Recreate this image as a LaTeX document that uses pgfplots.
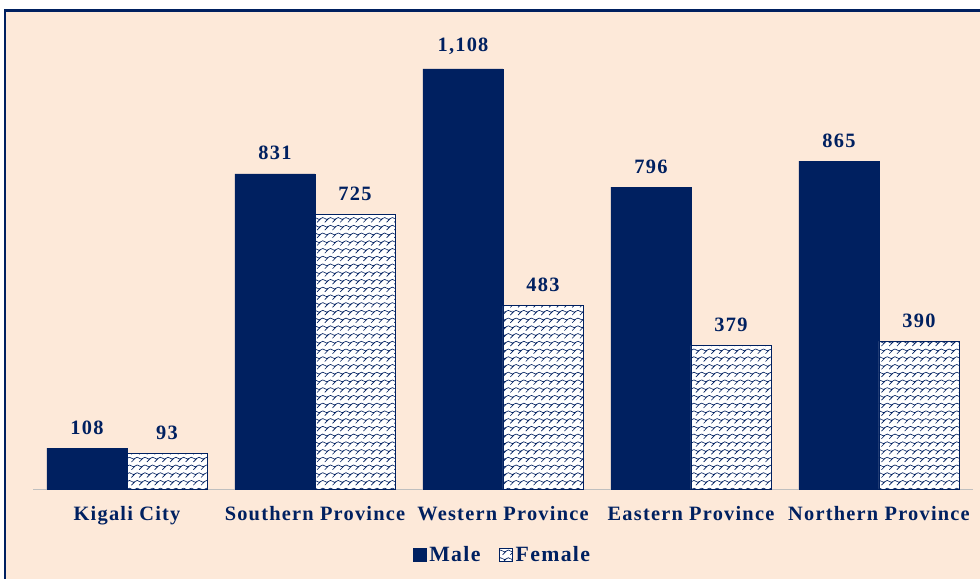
\documentclass[border=0pt]{standalone}
\usepackage{fontspec}
\setmainfont{Liberation Serif}
\newfontfamily\lab[LetterSpace=6]{Liberation Serif}
\usepackage{pgfplots}
\pgfplotsset{compat=1.18}
\usetikzlibrary{patterns}
\definecolor{navy}{HTML}{002060}
\definecolor{peach}{HTML}{FDE9D9}

% scale-like pattern similar to the Excel "shingle" fill
\pgfdeclarepatternformonly{shingle}{\pgfqpoint{-0.5pt}{-0.5pt}}{\pgfqpoint{6pt}{6pt}}{\pgfqpoint{5.5pt}{5.5pt}}{
  \pgfsetlinewidth{0.45pt}
  \pgfpathmoveto{\pgfqpoint{0pt}{0pt}}
  \pgfpathlineto{\pgfqpoint{2.75pt}{2.75pt}}
  \pgfpathcurveto{\pgfqpoint{3.4pt}{3.6pt}}{\pgfqpoint{4.8pt}{3.6pt}}{\pgfqpoint{5.5pt}{2.75pt}}
  \pgfpathmoveto{\pgfqpoint{0pt}{2.75pt}}
  \pgfpathcurveto{\pgfqpoint{0.7pt}{1.9pt}}{\pgfqpoint{2.1pt}{1.9pt}}{\pgfqpoint{2.75pt}{2.75pt}}
  \pgfusepath{stroke}
}

\begin{document}
\begin{tikzpicture}
\fill[white] (-8.25mm,-22.25mm) rectangle (236.75mm,122.25mm);
\useasboundingbox (-8.25mm,-22.25mm) rectangle (236.75mm,122.25mm);
\filldraw[fill=peach, draw=navy, line width=0.55mm] (-7mm,-30mm) rectangle (245mm,119.6mm);
\begin{axis}[
  at={(0,0)}, anchor=south west,
  scale only axis,
  width=235mm, height=113.75mm,
  xmin=-0.5, xmax=4.5, ymin=0, ymax=1200,
  ybar=0pt, bar width=20mm,
  axis x line*=bottom, axis y line=none,
  x axis line style={draw=black!25, line width=0.4pt},
  ytick=\empty,
  xtick={0,1,2,3,4},
  xticklabels={Kigali City, Southern Province, Western Province, Eastern Province, Northern Province},
  major tick length=0pt,
  xticklabel style={font=\fontsize{14.5}{16}\selectfont\lab\bfseries, text=navy, yshift=-3.2mm},
  nodes near coords,
  /pgf/number format/1000 sep={,},
  /pgf/number format/assume math mode=true,
  every node near coord/.append style={font=\fontsize{14.5}{16}\selectfont\lab\bfseries, text=navy, yshift=2.2mm},
  legend style={at={(0.5,-0.145)}, anchor=center, draw=none, fill=none,
    legend columns=-1, font=\fontsize{15.5}{17}\selectfont\lab\bfseries, text=navy,
    /tikz/every even column/.append style={column sep=4mm}},
  legend image code/.code={\draw[#1] (0mm,-1.6mm) rectangle (3.2mm,1.6mm);},
]
\addplot[fill=navy, draw=navy] coordinates {(0,108) (1,831) (2,1108) (3,796) (4,865)};
\addplot[fill=white, draw=navy, line width=0.6pt, postaction={pattern=shingle, pattern color=navy}]
  coordinates {(0,93) (1,725) (2,483) (3,379) (4,390)};
\legend{Male, Female}
\end{axis}
\end{tikzpicture}
\end{document}
